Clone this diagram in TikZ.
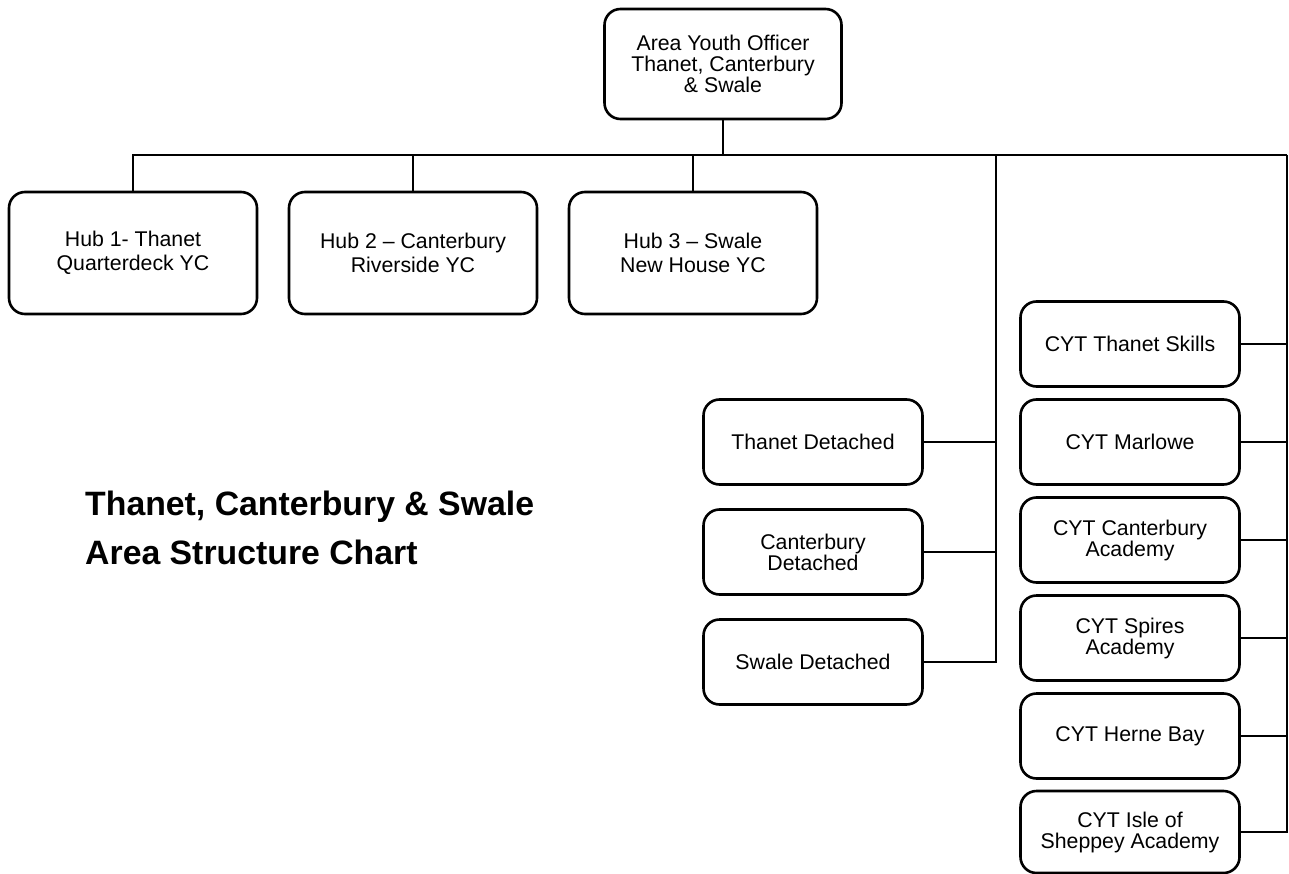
\documentclass[tikz,border=0pt]{standalone}
\usepackage{fontspec}
\setmainfont{Liberation Sans}
\usepackage{tikz}
\usetikzlibrary{positioning,calc}
\tikzstyle{unit} = [draw,line width=2.6pt,rounded corners=16pt,align=center,inner sep=0pt,font=\fontsize{21.3}{21}\selectfont]
\tikzstyle{hub} = [unit,minimum width=248pt,minimum height=122pt,font=\fontsize{21.3}{24}\selectfont]
\tikzstyle{team} = [unit,minimum width=219pt,minimum height=85pt]
\tikzstyle{link} = [line width=1.6pt]

\begin{document}
\begin{tikzpicture}[x=1pt,y=-1pt]
  \useasboundingbox (0,0) rectangle (1289,874);
  \node (ayo)[unit,minimum width=237pt,minimum height=110pt] at (723,64) {Area Youth Officer\\Thanet, Canterbury\\\& Swale};

  \node (hub1)[hub] at (133,253) {Hub 1- Thanet\\Quarterdeck YC};
  \node (hub2)[hub] at (413,253) {Hub 2 -- Canterbury\\Riverside YC};
  \node (hub3)[hub] at (693,253) {Hub 3 -- Swale\\New House YC};

  \node (thdet)[team] at (813,442) {Thanet Detached};
  \node (cadet)[team] at (813,552) {Canterbury\\Detached};
  \node (swdet)[team] at (813,662) {Swale Detached};

  \node (cyt1)[team] at (1130,344) {CYT Thanet Skills};
  \node (cyt2)[team] at (1130,442) {CYT Marlowe};
  \node (cyt3)[team] at (1130,540) {CYT Canterbury\\Academy};
  \node (cyt4)[team] at (1130,638) {CYT Spires\\Academy};
  \node (cyt5)[team] at (1130,736) {CYT Herne Bay};
  \node (cyt6)[team,minimum height=82pt] at (1130,832) {CYT Isle of\\Sheppey Academy};

  \node (title)[anchor=west,align=left,inner sep=0pt,font=\bfseries\fontsize{33.8}{49}\selectfont] at (85,528) {Thanet, Canterbury \& Swale\\Area Structure Chart};

  \coordinate (bus) at (723,155);
  \coordinate (dbus) at (996,155);
  \coordinate (cbus) at (1287,155);

  \draw[link] (ayo) -- (bus);
  \draw[link] (hub1.north) |- (cbus);
  \draw[link] (hub2.north) -- (hub2.north |- bus);
  \draw[link] (hub3.north) -- (hub3.north |- bus);

  \draw[link] (dbus) |- (swdet.east);
  \draw[link] (thdet.east) -- (thdet.east -| dbus);
  \draw[link] (cadet.east) -- (cadet.east -| dbus);

  \draw[link] (cbus) |- (cyt6.east);
  \foreach \n in {cyt1,cyt2,cyt3,cyt4,cyt5}
    \draw[link] (\n.east) -- (\n.east -| cbus);
\end{tikzpicture}
\end{document}
